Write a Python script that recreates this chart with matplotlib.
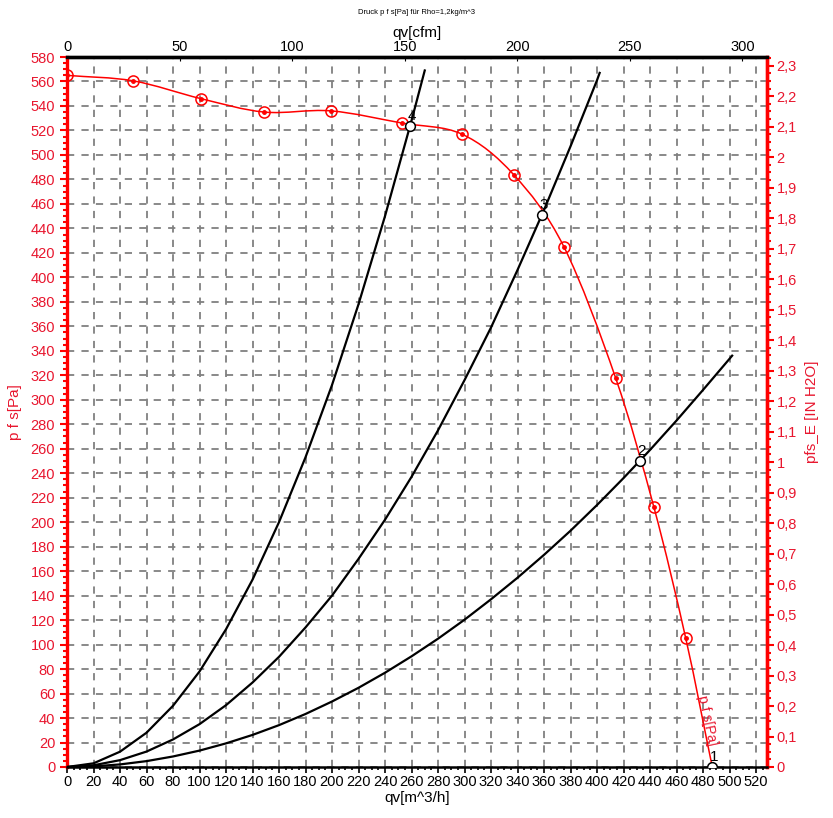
import matplotlib
matplotlib.use('Agg')
import matplotlib.pyplot as plt
import numpy as np
from matplotlib.path import Path
from matplotlib.patches import PathPatch
from matplotlib.ticker import MultipleLocator, FixedLocator, FuncFormatter

plt.rcParams['font.family'] = ['Liberation Sans', 'DejaVu Sans']

# ---- data ----
fan_q = [0, 50, 101, 149, 199, 253, 298, 337, 375, 414, 443, 467, 487]
fan_p = [565, 560.5, 546, 535, 536, 526, 517, 484, 425, 318, 212, 105, 0]

sys4_q = [0, 20, 40, 60, 80, 100, 120, 140, 160, 180, 200, 220, 240, 260, 270]
sys4_p = [0, 3, 12.5, 28, 50, 78, 112.5, 153, 200, 253, 312, 378, 450, 528, 569]

sys3_q = [0, 20, 40, 60, 80, 100, 120, 140, 160, 180, 200, 220, 240, 260, 280,
          300, 320, 340, 360, 380, 400, 402]
sys3_p = [0, 1.4, 5.6, 12.6, 22.5, 35, 50.5, 69, 90, 114, 140, 170, 202, 237,
          275, 316, 359, 406, 455, 507, 561, 567]

sys2_q = [0, 20, 40, 60, 80, 100, 120, 140, 160, 180, 200, 220, 240, 260, 280,
          300, 320, 340, 360, 380, 400, 420, 440, 460, 480, 502]
sys2_p = [0, 0.5, 2.1, 4.8, 8.6, 13.4, 19.3, 26.2, 34.2, 43.3, 53.5, 64.7, 77,
          90.4, 104.8, 120.3, 137, 154.6, 173.3, 193, 214, 236, 259, 283, 308, 336]

op_labels = ['4', '3', '2', '1']
op_q = [259, 358.5, 432.5, 487]
op_p = [524, 451, 250, 0]

cfm_ticks = [0, 50, 100, 150, 200, 250, 300]

PA_PER_INH2O = 249.09
M3H_PER_CFM = 1.699

RED = '#ff0000'
TRED = '#e8162e'


def smooth_path(xs, ys):
    pts = np.column_stack([xs, ys]).astype(float)
    n = len(pts)
    tang = np.zeros_like(pts)
    tang[1:-1] = (pts[2:] - pts[:-2]) / 2
    tang[0] = pts[1] - pts[0]
    tang[-1] = pts[-1] - pts[-2]
    verts = [pts[0]]
    codes = [Path.MOVETO]
    for i in range(n - 1):
        verts += [pts[i] + tang[i] / 3, pts[i + 1] - tang[i + 1] / 3, pts[i + 1]]
        codes += [Path.CURVE4] * 3
    return Path(verts, codes)


fig = plt.figure(figsize=(8.33, 8.18), dpi=100)
ax = fig.add_axes([67 / 833, 1 - 767 / 818, 700 / 833, 710 / 818])
ax.set_xlim(0, 528.3)
ax.set_ylim(0, 580)

# grid
ax.xaxis.set_major_locator(MultipleLocator(20))
ax.yaxis.set_major_locator(MultipleLocator(20))
ax.xaxis.set_minor_locator(MultipleLocator(5))
ax.yaxis.set_minor_locator(MultipleLocator(5))
ax.grid(True, which='major', color='#808080', linestyle=(0, (4, 4)), linewidth=1.3)

# system curves
for q, p in [(sys4_q, sys4_p), (sys3_q, sys3_p), (sys2_q, sys2_p)]:
    ax.plot(q, p, color='black', linewidth=1.6, zorder=3)

# fan curve (smooth)
ax.add_patch(PathPatch(smooth_path(fan_q, fan_p), facecolor='none',
                       edgecolor=RED, linewidth=1.1, zorder=4))
ax.plot(fan_q[:-1], fan_p[:-1], linestyle='none', marker='o', markersize=8,
        markerfacecolor='none', markeredgecolor=RED, markeredgewidth=1.1, zorder=5)
ax.plot(fan_q[:-1], fan_p[:-1], linestyle='none', marker='o', markersize=2.5,
        color=RED, zorder=5)

# operating points
ax.plot(op_q, op_p, linestyle='none', marker='o', markersize=7,
        markerfacecolor='white', markeredgecolor='black', markeredgewidth=1.1, zorder=6)
for lab, q, p in zip(op_labels, op_q, op_p):
    ax.annotate(lab, (q, p), xytext=(1, 2), textcoords='offset points',
                ha='center', va='bottom', fontsize=11, color='black', zorder=7)

ax.text(483, 38, 'p f s[Pa]', color=TRED, fontsize=10, rotation=-78,
        ha='center', va='center', rotation_mode='anchor', zorder=7)

# spines
ax.spines['left'].set_color(RED)
ax.spines['left'].set_linewidth(2.4)
ax.spines['right'].set_color(RED)
ax.spines['right'].set_linewidth(2.4)
ax.spines['top'].set_color('black')
ax.spines['top'].set_linewidth(2.4)
ax.spines['bottom'].set_color('black')
ax.spines['bottom'].set_linewidth(1.8)

ax.tick_params(axis='y', which='both', colors=RED, labelcolor=TRED, labelsize=10.5,
               direction='out', left=True, right=False, width=1.5)
ax.tick_params(axis='y', which='major', length=5)
ax.tick_params(axis='y', which='minor', length=3)
ax.tick_params(axis='x', which='both', colors='black', labelsize=10.5,
               direction='out', width=1.2, pad=2)
ax.tick_params(axis='x', which='major', length=4)
ax.tick_params(axis='x', which='minor', length=2)

ax.set_xlabel('qv[m^3/h]', fontsize=11, labelpad=1)
ax.set_ylabel('p f s[Pa]', fontsize=11, color=TRED, labelpad=6)

# top axis cfm
secx = ax.secondary_xaxis('top', functions=(lambda x: x / M3H_PER_CFM,
                                            lambda c: c * M3H_PER_CFM))
secx.xaxis.set_major_locator(FixedLocator(cfm_ticks))
secx.xaxis.set_minor_locator(FixedLocator([]))
secx.tick_params(axis='x', which='both', labelsize=10.5, direction='in', pad=2)
secx.tick_params(axis='x', which='major', length=3)
secx.set_xlabel('qv[cfm]', fontsize=11, labelpad=2)
secx.spines['top'].set_linewidth(2.4)

# right axis inH2O
secy = ax.secondary_yaxis('right', functions=(lambda p: p / PA_PER_INH2O,
                                              lambda h: h * PA_PER_INH2O))
secy.yaxis.set_major_locator(FixedLocator(np.round(np.arange(0, 2.31, 0.1), 1)))
secy.yaxis.set_minor_locator(FixedLocator(np.arange(0, 2.33, 0.025)))


def fmt(v, pos):
    s = f'{v:.1f}'
    if s.endswith('.0'):
        s = s[:-2]
    return s.replace('.', ',')


secy.yaxis.set_major_formatter(FuncFormatter(fmt))
secy.tick_params(axis='y', which='both', colors=RED, labelcolor=TRED, labelsize=10.5,
                 direction='out', width=1.5, pad=2)
secy.tick_params(axis='y', which='major', length=5)
secy.tick_params(axis='y', which='minor', length=3)
secy.spines['right'].set_color(RED)
secy.spines['right'].set_linewidth(2.4)
secy.set_ylabel('pfs_E [IN H2O]', fontsize=11, color=TRED, labelpad=6)

fig.text(0.5, 1 - 13 / 818, 'Druck p f s[Pa] für Rho=1,2kg/m^3', ha='center',
         va='center', fontsize=5.5, color='black')

fig.savefig('out.png', dpi=100)
